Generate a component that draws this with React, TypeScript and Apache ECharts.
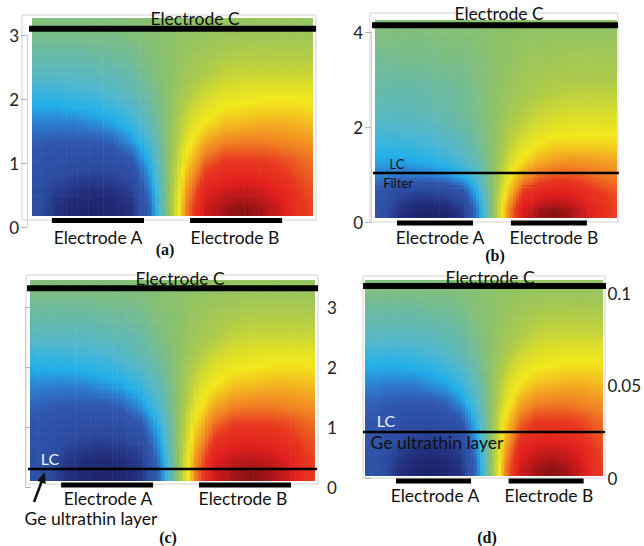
import React, { useEffect, useRef } from "react";
import * as echarts from "echarts";

// ---- field sampling grid (electrode-relative horizontal coordinate u; A spans 0.09–0.40) ----
const U_CENTERS = [-0.019, 0.044, 0.106, 0.169, 0.231, 0.294, 0.356, 0.419, 0.481, 0.544, 0.606, 0.669, 0.731, 0.794, 0.856, 0.919, 0.981];
const U_CELL = 0.0625;

// normalized potential (0 = electrode A, 100 = electrode B), rows listed top -> bottom
const FIELD_ACD = [
  [48, 48, 48, 48, 48, 48, 49, 49, 50, 51, 51, 52, 52, 52, 52, 52, 52],
  [45, 45, 45, 45, 46, 46, 47, 49, 50, 52, 53, 54, 55, 55, 55, 55, 55],
  [42, 42, 42, 42, 43, 44, 45, 48, 50, 53, 55, 57, 58, 58, 58, 58, 58],
  [39, 39, 39, 39, 40, 41, 43, 47, 50, 54, 57, 60, 61, 61, 61, 61, 61],
  [34, 34, 34, 35, 36, 38, 41, 45, 50, 56, 61, 64, 65, 66, 66, 66, 66],
  [30, 30, 30, 31, 32, 34, 37, 43, 50, 59, 65, 68, 69, 70, 70, 70, 69],
  [26, 25, 25, 25, 27, 29, 33, 40, 50, 62, 69, 73, 74, 75, 75, 74, 73],
  [22, 21, 20, 20, 20, 22, 28, 37, 50, 65, 75, 79, 80, 80, 79, 78, 77],
  [20, 18, 16, 15, 15, 16, 20, 33, 50, 69, 81, 85, 85, 85, 84, 82, 80],
  [18, 16, 13, 11, 10, 11, 14, 29, 50, 73, 86, 89, 90, 89, 87, 84, 82],
  [17, 14, 9, 6, 5, 6, 9, 25, 50, 77, 91, 94, 95, 94, 91, 86, 83],
  [16, 13, 6, 3, 2, 3, 6, 22, 50, 80, 94, 97, 98, 97, 94, 87, 84],
];

const FIELD_B = [
  [48, 48, 48, 48, 49, 49, 49, 49, 50, 50, 51, 51, 51, 51, 51, 51, 51],
  [47, 47, 47, 47, 47, 48, 48, 49, 50, 51, 52, 52, 53, 53, 53, 53, 53],
  [45, 45, 46, 46, 46, 47, 47, 48, 50, 51, 53, 54, 54, 55, 55, 55, 55],
  [44, 44, 44, 44, 45, 45, 46, 48, 50, 52, 54, 55, 56, 56, 56, 56, 56],
  [42, 42, 42, 42, 43, 44, 45, 47, 50, 53, 55, 57, 58, 59, 59, 59, 59],
  [40, 40, 40, 41, 42, 43, 45, 47, 50, 54, 57, 60, 61, 62, 62, 62, 62],
  [37, 37, 38, 38, 39, 41, 43, 46, 50, 56, 60, 63, 65, 66, 66, 66, 66],
  [34, 34, 34, 35, 36, 38, 40, 45, 50, 58, 64, 68, 70, 70, 70, 70, 70],
  [30, 30, 30, 31, 32, 34, 37, 42, 50, 61, 69, 74, 76, 77, 77, 76, 75],
  [26, 25, 24, 24, 25, 27, 31, 38, 50, 66, 77, 82, 84, 84, 83, 81, 80],
  [19, 16, 12, 10, 10, 12, 17, 32, 50, 72, 87, 91, 92, 92, 89, 86, 84],
  [17, 13, 6, 3, 2, 3, 8, 26, 50, 78, 93, 97, 98, 97, 94, 88, 85],
];

// geometry (axis units)
const DOMAIN_HEIGHT = [3.1, 4.17, 3.38, 0.1065];
const ELECTRODE_A = [0.09, 0.4];
const ELECTRODE_B = [0.555, 0.865];
const ELECTRODE_Y = [-0.07, -0.105, -0.067, -0.0027];
const ELECTRODE_C_Y = [2.93, 4.06, 3.24, 0.1032];
const ELECTRODE_C_SPAN = [[0.002, 0.98], [-0.041, 0.992], [-0.038, 0.99], [-0.046, 0.97]];
const LC_Y = [null, 0.95, 0.2, 0.0239];
const LC_SPAN = [null, [-0.041, 0.996], [-0.045, 0.953], [-0.067, 0.974]];

// tick labels
const TICK_MAX = [3, 4, 3, 0.1];
const TICK_STEP = [1, 2, 1, 0.05];

const STOPS: [number, string][] = [
  [0, "#1b1f63"], [5, "#222d7c"], [12, "#2c4aa0"], [20, "#3057ad"], [26, "#2c80d2"], [31, "#22b0e8"],
  [37, "#4fb7cf"], [44, "#6cbaa0"], [50, "#8bc16a"], [57, "#b0cb48"], [63, "#d9dd2a"], [68, "#f2e71b"],
  [74, "#f3b21f"], [80, "#f07e22"], [86, "#e8361f"], [92, "#e2201e"], [96, "#b8181a"], [100, "#620c0c"],
];

function hex(c: string) {
  return [parseInt(c.slice(1, 3), 16), parseInt(c.slice(3, 5), 16), parseInt(c.slice(5, 7), 16)];
}
function colorFor(v: number) {
  if (v <= STOPS[0][0]) return STOPS[0][1];
  for (let i = 1; i < STOPS.length; i++) {
    if (v <= STOPS[i][0]) {
      const [p0, c0] = STOPS[i - 1];
      const [p1, c1] = STOPS[i];
      const t = (v - p0) / (p1 - p0);
      const a = hex(c0), b = hex(c1);
      const m = a.map((x, k) => Math.round(x + (b[k] - x) * t));
      return `rgb(${m[0]},${m[1]},${m[2]})`;
    }
  }
  return STOPS[STOPS.length - 1][1];
}

// smooth shading between the sampled cells (rendering only; samples stay as read)
function shade(field: number[][], fr: number, fc: number) {
  const rows = field.length, cols = field[0].length;
  const r = Math.min(Math.max(fr, 0), rows - 1);
  const c = Math.min(Math.max(fc, 0), cols - 1);
  const r0 = Math.floor(r), c0 = Math.floor(c);
  const r1 = Math.min(r0 + 1, rows - 1), c1 = Math.min(c0 + 1, cols - 1);
  const tr = r - r0, tc = c - c0;
  const top = field[r0][c0] * (1 - tc) + field[r0][c1] * tc;
  const bot = field[r1][c0] * (1 - tc) + field[r1][c1] * tc;
  return top * (1 - tr) + bot * tr;
}

const FONT = "Lato, 'Open Sans', sans-serif";
const SUB = 5;

const LAYOUT = [
  { field: FIELD_ACD, grid: { left: 32, top: 18, width: 281, height: 198 }, xr: [0.023, 0.969],
    axisGrid: { left: 27, top: 35, width: 289, height: 192 }, axisPos: "left" },
  { field: FIELD_B, grid: { left: 375, top: 20, width: 242, height: 198 }, xr: [0.0, 0.988],
    axisGrid: { left: 371, top: 32, width: 246, height: 190 }, axisPos: "left" },
  { field: FIELD_ACD, grid: { left: 30, top: 280, width: 285, height: 201 }, xr: [-0.015, 0.946],
    axisGrid: { left: 25, top: 307, width: 294, height: 180 }, axisPos: "right" },
  { field: FIELD_ACD, grid: { left: 365, top: 280, width: 238, height: 196 }, xr: [-0.038, 0.945],
    axisGrid: { left: 365, top: 293, width: 239, height: 185 }, axisPos: "right" },
];

function buildOption() {
  const grid: any[] = [];
  const xAxis: any[] = [];
  const yAxis: any[] = [];
  const series: any[] = [];
  LAYOUT.forEach((L, p) => {
    const ymax = DOMAIN_HEIGHT[p];
    const field = L.field;
    const rows = field.length;
    grid.push({ ...L.grid, show: false });
    grid.push({ ...L.axisGrid, show: false });
    xAxis.push({ type: "value", gridIndex: 2 * p, min: L.xr[0], max: L.xr[1], show: false });
    xAxis.push({ type: "value", gridIndex: 2 * p + 1, min: 0, max: 1, show: false });
    yAxis.push({ type: "value", gridIndex: 2 * p, min: 0, max: ymax, show: false });
    yAxis.push({
      type: "value", gridIndex: 2 * p + 1, min: 0, max: TICK_MAX[p], interval: TICK_STEP[p],
      position: L.axisPos,
      axisLine: { show: true, lineStyle: { color: "#cfcfcf", width: 1 } },
      axisTick: { show: true, length: 6, lineStyle: { color: "#b5b5b5" } },
      splitLine: { show: false },
      axisLabel: { color: "#222", fontSize: 17, fontFamily: FONT, margin: 8 },
    });
    const data: number[][] = [];
    field.forEach((row, r) => {
      const yc = ((rows - r - 0.5) / rows) * ymax;
      row.forEach((v, c) => data.push([U_CENTERS[c], yc, v, r, c]));
    });
    const dy = ymax / rows;
    series.push({
      type: "custom", xAxisIndex: 2 * p, yAxisIndex: 2 * p, clip: true, silent: true,
      encode: { x: 0, y: 1 },
      data,
      renderItem: (params: any, api: any) => {
        const u = api.value(0), y = api.value(1);
        const r = api.value(3), c = api.value(4);
        const children: any[] = [];
        for (let i = 0; i < SUB; i++) {
          for (let j = 0; j < SUB; j++) {
            const fr = r + (i + 0.5) / SUB - 0.5;
            const fc = c + (j + 0.5) / SUB - 0.5;
            const val = shade(field, fr, fc);
            const x0 = u - U_CELL / 2 + (j * U_CELL) / SUB;
            const yTop = y + dy / 2 - (i * dy) / SUB;
            const p0 = api.coord([x0, yTop]);
            const p1 = api.coord([x0 + U_CELL / SUB, yTop - dy / SUB]);
            children.push({
              type: "rect",
              shape: { x: p0[0], y: p0[1], width: p1[0] - p0[0] + 0.6, height: p1[1] - p0[1] + 0.6 },
              style: { fill: colorFor(val) },
            });
          }
        }
        return { type: "group", children };
      },
    });
    const lineSeries = (pts: number[][], width: number) => ({
      type: "line", xAxisIndex: 2 * p, yAxisIndex: 2 * p, data: pts, symbol: "none", clip: false,
      silent: true, lineStyle: { color: "#000", width, cap: "butt" }, z: 5,
    });
    series.push(lineSeries([[ELECTRODE_C_SPAN[p][0], ELECTRODE_C_Y[p]], [ELECTRODE_C_SPAN[p][1], ELECTRODE_C_Y[p]]], 6));
    series.push(lineSeries([[ELECTRODE_A[0], ELECTRODE_Y[p]], [ELECTRODE_A[1], ELECTRODE_Y[p]]], 5));
    series.push(lineSeries([[ELECTRODE_B[0], ELECTRODE_Y[p]], [ELECTRODE_B[1], ELECTRODE_Y[p]]], 5));
    const lc = LC_Y[p];
    const span = LC_SPAN[p];
    if (lc !== null && span) {
      series.push(lineSeries([[span[0], lc], [span[1], lc]], 2.5));
    }
  });

  const txt = (text: string, x: number, y: number, size = 17.5, fill = "#111", extra: any = {}) => ({
    type: "text", x, y, z: 10, silent: true,
    style: { text, fill, fontSize: size, fontFamily: FONT, align: "center", verticalAlign: "middle", ...extra },
  });
  const letter = (text: string, x: number, y: number) => ({
    type: "text", x, y, z: 10, silent: true,
    style: { text, fill: "#111", fontSize: 16, fontWeight: "bold", fontFamily: "'Liberation Serif', 'Times New Roman', serif", align: "center", verticalAlign: "middle" },
  });
  const frame = (x1: number, y1: number, x2: number, y2: number) => ({
    type: "rect", z: 0, silent: true, shape: { x: x1, y: y1, width: x2 - x1, height: y2 - y1 },
    style: { fill: "none", stroke: "#d2d2d2", lineWidth: 1 },
  });

  const graphic: any[] = [
    frame(22, 15, 316, 220), frame(370, 13, 618, 222), frame(26, 275, 318, 484), frame(363, 276, 605, 478),
    txt("Electrode C", 195, 18), txt("Electrode A", 98, 237), txt("Electrode B", 235, 237), letter("(a)", 165, 249),
    txt("Electrode C", 499, 13), txt("Electrode A", 440, 237), txt("Electrode B", 554, 237),
    txt("LC", 397, 164, 13), txt("Filter", 398, 183, 13), letter("(b)", 495, 255),
    txt("Electrode C", 180, 278), txt("Electrode A", 108, 498), txt("Electrode B", 243, 498),
    txt("LC", 50, 458, 16, "#eef3ff"), txt("Ge ultrathin layer", 91, 518), letter("(c)", 168, 537),
    txt("Electrode C", 490, 277), txt("Electrode A", 435, 495), txt("Electrode B", 549, 495),
    txt("LC", 386, 420, 16, "#eef3ff"), txt("Ge ultrathin layer", 437, 442), letter("(d)", 487, 537),
    { type: "line", z: 10, silent: true, shape: { x1: 34, y1: 502, x2: 41.5, y2: 482 }, style: { stroke: "#111", lineWidth: 2.5 } },
    { type: "polygon", z: 10, silent: true, shape: { points: [[45, 472], [45.7, 484], [37.2, 480.8]] }, style: { fill: "#111" } },
  ];

  return { animation: false, backgroundColor: "#fff", grid, xAxis, yAxis, series, graphic };
}

export default function App() {
  const ref = useRef<HTMLDivElement>(null);
  useEffect(() => {
    if (!ref.current) return;
    const chart = echarts.init(ref.current, undefined, { renderer: "svg" });
    chart.setOption(buildOption() as any);
    return () => chart.dispose();
  }, []);
  return <div ref={ref} style={{ position: "absolute", left: 0, top: 0, width: 644, height: 546, background: "#fff" }} />;
}
